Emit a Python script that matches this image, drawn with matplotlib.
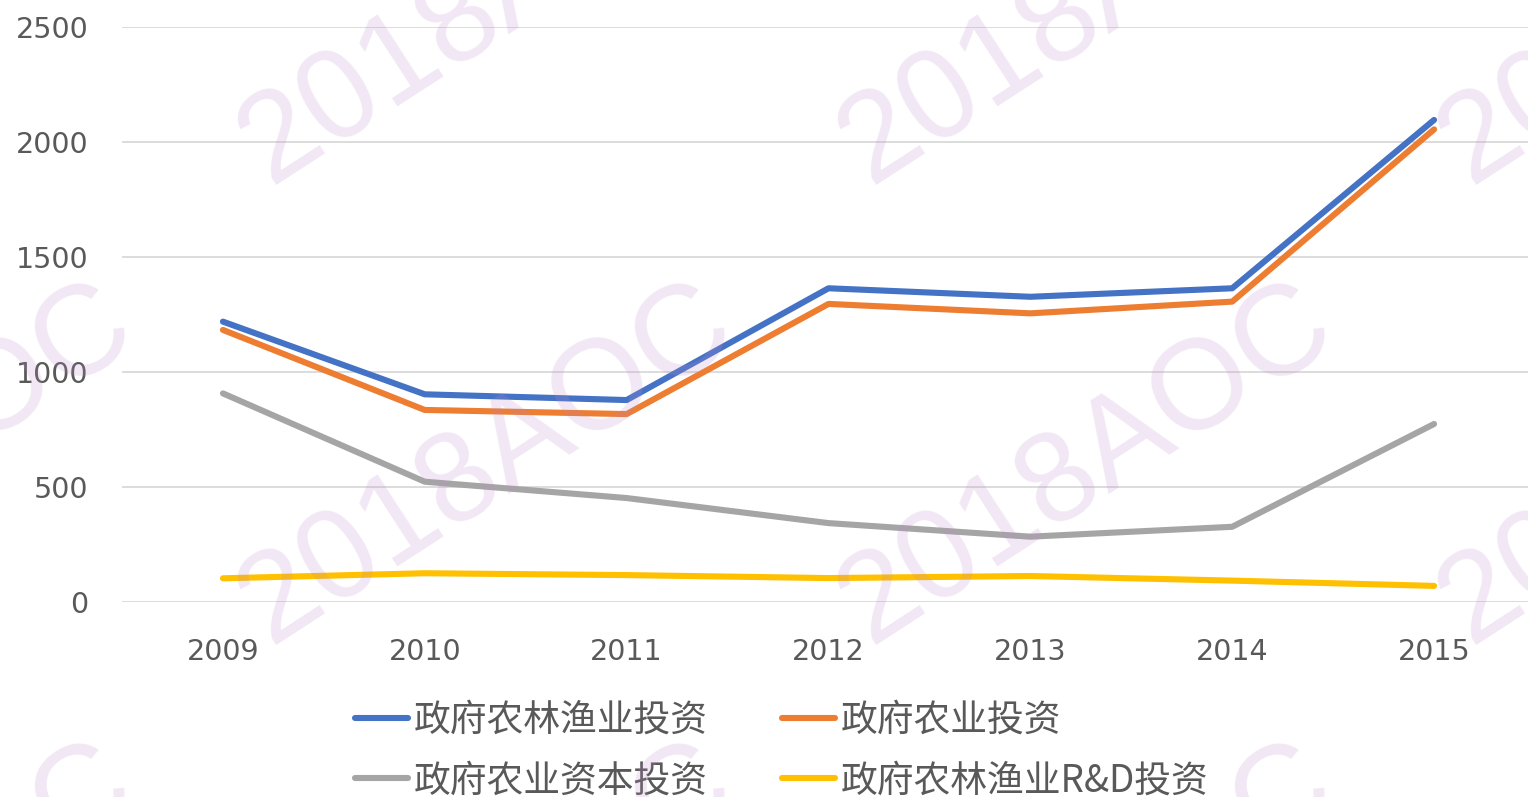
import matplotlib
matplotlib.use('Agg')
import matplotlib.pyplot as plt

plt.rcParams['font.family'] = ['Noto Sans CJK SC', 'DejaVu Sans']

# datos
years = ['2009', '2010', '2011', '2012', '2013', '2014', '2015']
gov_aff = [1219, 903, 878, 1364, 1327, 1364, 2096]
gov_agri = [1183, 835, 817, 1296, 1255, 1306, 2055]
gov_agri_capital = [907, 523, 452, 343, 284, 327, 774]
gov_aff_rd = [103, 125, 117, 104, 113, 93, 70]

series_names = ['政府农林渔业投资', '政府农业投资', '政府农业资本投资', '政府农林渔业R&D投资']
series_colors = ['#4472C4', '#ED7D31', '#A5A5A5', '#FFC000']
y_ticks = [0, 500, 1000, 1500, 2000, 2500]

W, H = 1528, 797
fig = plt.figure(figsize=(W / 100, H / 100), dpi=100)
ax = fig.add_axes([122 / W, (H - 602) / H, (1535 - 122) / W, (602 - 27) / H])

x = list(range(len(years)))
lines = []
for vals, name, col in zip([gov_aff, gov_agri, gov_agri_capital, gov_aff_rd],
                           series_names, series_colors):
    l, = ax.plot(x, vals, color=col, lw=4.4, label=name, solid_capstyle='round', zorder=3)
    lines.append(l)

ax.set_xlim(-0.5, len(years) - 0.5)
ax.set_ylim(0, 2500)
ax.set_yticks(y_ticks)
ax.set_xticks(x)
ax.set_xticklabels(years)
ax.grid(axis='y', color='#D9D9D9', lw=1.3)
ax.set_axisbelow(True)
for s in ax.spines.values():
    s.set_visible(False)
ax.tick_params(axis='both', length=0, labelsize=20.5, colors='#595959')
ax.tick_params(axis='y', pad=24)
ax.tick_params(axis='x', pad=26)
for t in ax.get_xticklabels() + ax.get_yticklabels():
    t.set_family('DejaVu Sans')

# orden por filas como en el original
order = [0, 2, 1, 3]
fig.legend([lines[i] for i in order], [series_names[i] for i in order],
           loc='upper left', bbox_to_anchor=(355 / W, (H - 701) / H), ncol=2,
           frameon=False, fontsize=26.5, handlelength=1.45, handletextpad=0.15,
           columnspacing=2.0, labelspacing=0.58, borderpad=0, borderaxespad=0,
           labelcolor='#595959')

# marca de agua
for row_y in [185, 645, 1105]:
    for col_x in [-365, 235, 835, 1435]:
        fig.text((col_x + 35) / W, (H - row_y) / H, '2018AOC', fontsize=92,
                 family='Liberation Sans', color=(0.75, 0.55, 0.8), alpha=0.2,
                 rotation=33, rotation_mode='anchor', ha='left', va='baseline',
                 zorder=10)

fig.savefig('out.png', dpi=100)
